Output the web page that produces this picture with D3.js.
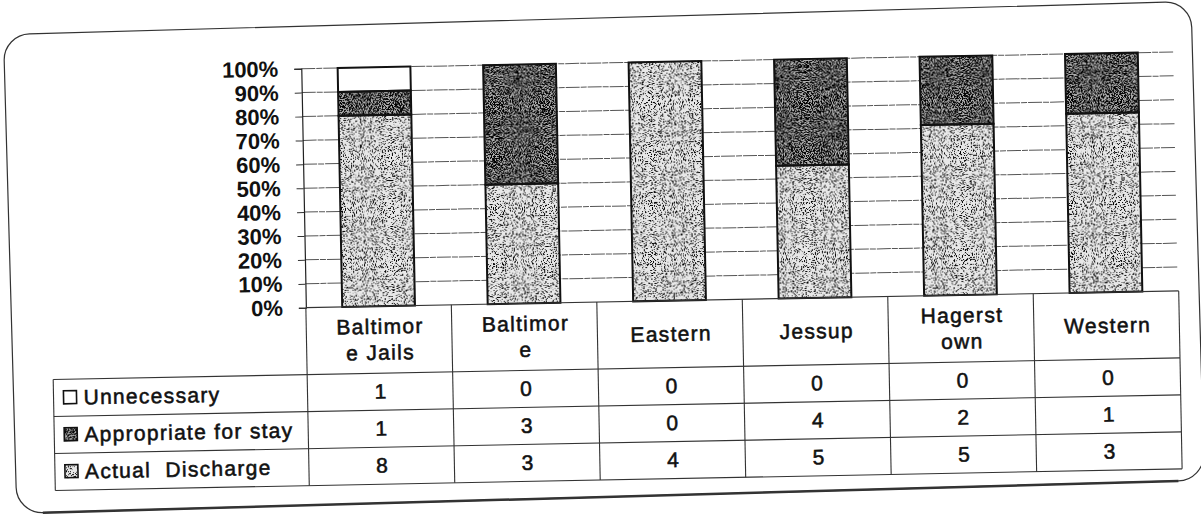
<!DOCTYPE html>
<html>
<head>
  <meta charset="utf-8">
  <script src="https://d3js.org/d3.v7.min.js"></script>
  <style>
    body { margin: 0; background: #fff; }
    svg text { font-family: "Liberation Sans", Arial, sans-serif; fill: #111; }
    .tbl { font-size: 21px; letter-spacing: 1.3px; white-space: pre; stroke: #111; stroke-width: 0.55px; }
    .ytick { font-size: 22px; font-weight: bold; }
  </style>
</head>
<body>
<div id="chart"></div>
<script>
  // data
  const categoryLines = [["Baltimor", "e Jails"], ["Baltimor", "e"], ["Eastern"], ["Jessup"], ["Hagerst", "own"], ["Western"]];
  const seriesNames = ["Unnecessary", "Appropriate for stay", "Actual  Discharge"];
  const unnecessary = [1, 0, 0, 0, 0, 0];
  const appropriate = [1, 3, 0, 4, 2, 1];
  const actualDischarge = [8, 3, 4, 5, 5, 3];

  const W = 1201, H = 520;
  const svg = d3.select("#chart").append("svg").attr("width", W).attr("height", H);

  // stipple textures like the photocopy
  const defs = svg.append("defs");
  function stipple(id, freq, a, b, seed) {
    const f = defs.append("filter").attr("id", id)
      .attr("x", 0).attr("y", 0).attr("width", 1).attr("height", 1)
      .attr("color-interpolation-filters", "sRGB");
    f.append("feTurbulence").attr("type", "fractalNoise").attr("baseFrequency", freq)
      .attr("numOctaves", 2).attr("seed", seed).attr("result", "n");
    f.append("feColorMatrix").attr("in", "n").attr("type", "matrix")
      .attr("values", `0 0 0 0 0  0 0 0 0 0  0 0 0 0 0  ${a} 0 0 0 ${b}`).attr("result", "d");
    f.append("feComposite").attr("in", "d").attr("in2", "SourceAlpha").attr("operator", "in").attr("result", "dc");
    const m = f.append("feMerge");
    m.append("feMergeNode").attr("in", "SourceGraphic");
    m.append("feMergeNode").attr("in", "dc");
  }
  stipple("stipL", 0.9, -12, 5.3, 3);
  stipple("stipD", 0.9, -10, 5.6, 7);

  const fills = { actual: "#e8e8e8", appropriate: "#b0b0b0", unnecessary: "#ffffff" };
  const filt = { actual: "url(#stipL)", appropriate: "url(#stipD)", unnecessary: null };

  // outer rounded frame (the scan is a little skewed)
  const frame = svg.append("g").attr("transform", "rotate(-1.6 600 260)");
  frame.append("rect").attr("x", 10).attr("y", 18).attr("width", 1188).attr("height", 479)
    .attr("rx", 26).attr("fill", "none").attr("stroke", "#333").attr("stroke-width", 1.2);
  frame.append("line").attr("x1", 36).attr("x2", 1172).attr("y1", 497).attr("y2", 497)
    .attr("stroke", "#333").attr("stroke-width", 2.5);

  const g = svg.append("g").attr("transform", "rotate(-1.1 600 260)");

  const n = categoryLines.length;
  const x = d3.scaleBand().domain(d3.range(n)).range([305, 1178]).paddingInner(0.5).paddingOuter(0.25);
  const y = d3.scaleLinear().domain([0, 1]).range([302, 63]);
  const step = x.step();
  const colLeft = i => x(i) - step * 0.25;

  // gridlines
  g.append("g").selectAll("line").data(y.ticks(10).filter(d => d > 0)).join("line")
    .attr("x1", 305).attr("x2", 1178).attr("y1", d => y(d)).attr("y2", d => y(d))
    .attr("stroke", "#555").attr("stroke-width", 1).attr("stroke-dasharray", "14 1 6 1");

  // y axis
  const yAxis = g.append("g").attr("transform", "translate(305,0)")
    .call(d3.axisLeft(y).ticks(10).tickFormat(d3.format(".0%")).tickSize(7).tickPadding(16));
  yAxis.select(".domain").attr("stroke", "#222").attr("stroke-width", 1.2);
  yAxis.selectAll(".tick line").attr("stroke", "#333");
  yAxis.selectAll(".tick text").attr("class", "ytick").attr("font-size", null).attr("font-family", null);

  // stacked bars, 100% expanded
  const rows = d3.range(n).map(i => ({ i, actual: actualDischarge[i], appropriate: appropriate[i], unnecessary: unnecessary[i] }));
  const keys = ["actual", "appropriate", "unnecessary"];
  const stacked = d3.stack().keys(keys).offset(d3.stackOffsetExpand)(rows);

  stacked.forEach(layer => {
    g.append("g").selectAll("rect").data(layer.filter(d => d[1] - d[0] > 0)).join("rect")
      .attr("x", d => x(d.data.i)).attr("width", x.bandwidth())
      .attr("y", d => y(d[1])).attr("height", d => y(d[0]) - y(d[1]))
      .attr("fill", fills[layer.key]).attr("filter", filt[layer.key]);
  });
  stacked.forEach(layer => {
    g.append("g").selectAll("rect").data(layer.filter(d => d[1] - d[0] > 0)).join("rect")
      .attr("x", d => x(d.data.i)).attr("width", x.bandwidth())
      .attr("y", d => y(d[1])).attr("height", d => y(d[0]) - y(d[1]))
      .attr("fill", "none").attr("stroke", "#111").attr("stroke-width", 2);
  });

  // data table
  const headTop = y(0), headBot = 369, rowH = 37;
  const tableRight = colLeft(n - 1) + step;
  const legendLeft = 51;
  const tl = g.append("g").attr("stroke", "#333").attr("stroke-width", 1.1);
  tl.append("line").attr("x1", 305).attr("x2", tableRight).attr("y1", headTop).attr("y2", headTop);
  [0, 1, 2, 3].forEach(r => {
    tl.append("line").attr("x1", legendLeft).attr("x2", tableRight)
      .attr("y1", headBot + r * rowH).attr("y2", headBot + r * rowH);
  });
  tl.append("line").attr("x1", legendLeft).attr("x2", legendLeft).attr("y1", headBot).attr("y2", headBot + 3 * rowH);
  d3.range(n + 1).forEach(i => {
    const cx = i < n ? colLeft(i) : tableRight;
    tl.append("line").attr("x1", cx).attr("x2", cx).attr("y1", headTop).attr("y2", headBot + 3 * rowH);
  });

  // category headers
  categoryLines.forEach((lines, i) => {
    const cx = x(i) + x.bandwidth() / 2 + 1;
    const mid = (headTop + headBot) / 2 + 7;
    lines.forEach((t, k) => {
      g.append("text").attr("class", "tbl").attr("text-anchor", "middle")
        .attr("x", cx).attr("y", mid + (k - (lines.length - 1) / 2) * 26).text(t);
    });
  });

  // legend rows + values
  const seriesVals = [unnecessary, appropriate, actualDischarge];
  const legendKeys = ["unnecessary", "appropriate", "actual"];
  seriesNames.forEach((name, r) => {
    const cy = headBot + r * rowH + rowH / 2;
    g.append("rect").attr("x", 61).attr("y", cy - 7).attr("width", 13).attr("height", 13)
      .attr("fill", fills[legendKeys[r]]).attr("filter", filt[legendKeys[r]]);
    g.append("rect").attr("x", 61).attr("y", cy - 7).attr("width", 13).attr("height", 13)
      .attr("fill", "none").attr("stroke", "#111").attr("stroke-width", 1.6);
    g.append("text").attr("class", "tbl").attr("x", 81).attr("y", cy + 7).text(name);
    seriesVals[r].forEach((v, i) => {
      g.append("text").attr("class", "tbl").attr("text-anchor", "middle")
        .attr("x", x(i) + x.bandwidth() / 2 + 1).attr("y", cy + 7).text(v);
    });
  });
</script>
</body>
</html>
